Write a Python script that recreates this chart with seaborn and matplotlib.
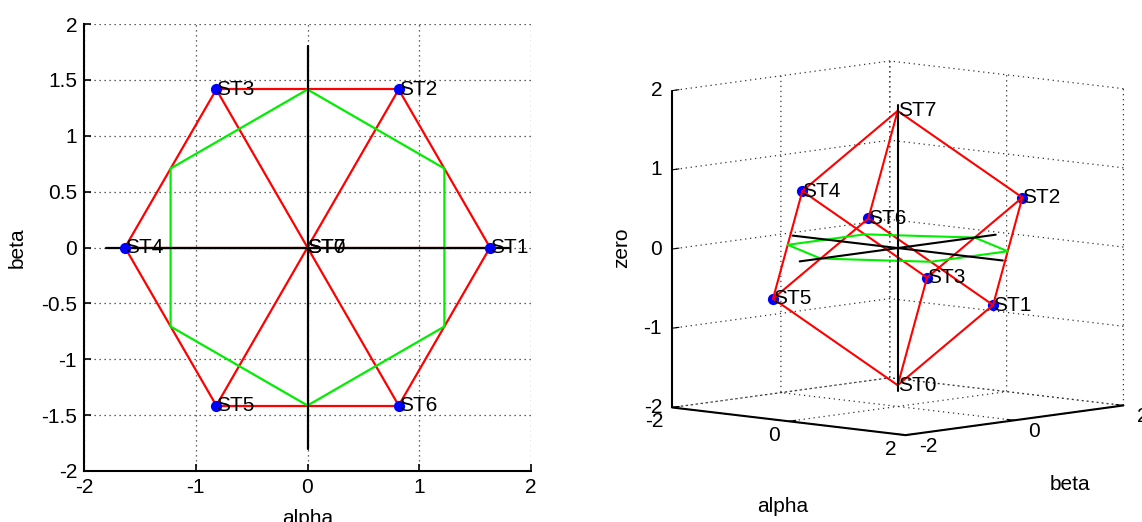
import numpy as np
import pandas as pd
import matplotlib
matplotlib.use("Agg")
import matplotlib.pyplot as plt
from matplotlib.transforms import ScaledTranslation
from matplotlib.ticker import NullFormatter
import seaborn as sns

sns.set_style("white")
plt.rcParams['font.family'] = ['Liberation Sans', 'DejaVu Sans']
plt.rcParams['axes.unicode_minus'] = False
plt.rcParams['grid.linestyle'] = (0, (1, 3))
plt.rcParams['grid.color'] = '0.2'
plt.rcParams['grid.linewidth'] = 0.9
plt.rcParams['text.color'] = 'k'
plt.rcParams['axes.labelcolor'] = 'k'
plt.rcParams['xtick.color'] = 'k'
plt.rcParams['ytick.color'] = 'k'

# ---------------- data ----------------
states = ['ST0', 'ST1', 'ST2', 'ST3', 'ST4', 'ST5', 'ST6', 'ST7']
alpha = [0.0, 1.633, 0.816, -0.816, -1.633, -0.816, 0.816, 0.0]
beta = [0.0, 0.0, 1.414, 1.414, 0.0, -1.414, -1.414, 0.0]
zero = [-1.732, -0.577, 0.577, -0.577, 0.577, -0.577, 0.577, 1.732]

# cube edges (index pairs into the state lists)
edges = [(0, 1), (0, 3), (0, 5), (7, 2), (7, 4), (7, 6),
         (1, 2), (2, 3), (3, 4), (4, 5), (5, 6), (6, 1)]

# green hexagon in the zero = 0 plane
green_alpha = [1.225, 0.0, -1.225, -1.225, 0.0, 1.225, 1.225]
green_beta = [0.707, 1.414, 0.707, -0.707, -1.414, -0.707, 0.707]
green_zero = [0.0, 0.0, 0.0, 0.0, 0.0, 0.0, 0.0]

axis_len = 1.8

xticks2d = [-2, -1, 0, 1, 2]
xticklabels2d = ['-2', '-1', '0', '1', '2']
yticks2d = [-2, -1.5, -1, -0.5, 0, 0.5, 1, 1.5, 2]
yticklabels2d = ['-2', '-1.5', '-1', '-0.5', '0', '0.5', '1', '1.5', '2']
ticks3d_ab = [-2, 0, 2]
ticklabels3d_ab = ['-2', '0', '2']
ticks3d_z = [-2, -1, 0, 1, 2]
ticklabels3d_z = ['-2', '-1', '0', '1', '2']

rows = []
for k, (i, j) in enumerate(edges):
    for n in (i, j):
        rows.append(dict(edge=k, alpha=alpha[n], beta=beta[n], zero=zero[n]))
edge_df = pd.DataFrame(rows)
green_df = pd.DataFrame(dict(alpha=green_alpha, beta=green_beta, zero=green_zero))

RED = '#ff0000'
GREEN = '#00ee00'
BLUE = '#0000ff'
FS = 15

fig = plt.figure(figsize=(11.42, 5.22), dpi=100)

# ---------------- left: 2-D ----------------
ax = fig.add_axes([84 / 1142, 51 / 522, 447 / 1142, 447 / 522])
sns.lineplot(data=edge_df, x='alpha', y='beta', units='edge', estimator=None,
             sort=False, color=RED, lw=1.6, ax=ax, legend=False)
sns.lineplot(data=green_df, x='alpha', y='beta', estimator=None, sort=False,
             color=GREEN, lw=1.6, ax=ax, legend=False)
ax.plot([-axis_len, axis_len], [0, 0], color='k', lw=1.6)
ax.plot([0, 0], [-axis_len, axis_len], color='k', lw=1.6)
sns.scatterplot(x=alpha[1:7], y=beta[1:7], color=BLUE, s=65, linewidth=0,
                ax=ax, legend=False, zorder=5)
for s, a, b in zip(states, alpha, beta):
    ax.text(a, b, s, fontsize=FS, ha='left', va='center', zorder=6)

ax.set_xlim(-2, 2)
ax.set_ylim(-2, 2)
ax.set_xticks(xticks2d)
ax.set_xticklabels(xticklabels2d)
ax.set_yticks(yticks2d)
ax.set_yticklabels(yticklabels2d)
ax.grid(True)
for sp in ('top', 'right'):
    ax.spines[sp].set_visible(False)
for sp in ('left', 'bottom'):
    ax.spines[sp].set_color('k')
    ax.spines[sp].set_linewidth(1.5)
ax.tick_params(direction='in', length=5, width=1.2, labelsize=FS, pad=5,
               left=True, bottom=True, colors='k')
ax.set_xlabel('alpha', fontsize=FS, labelpad=9)
ax.set_ylabel('beta', fontsize=FS, labelpad=10)

# ---------------- right: 3-D ----------------
ax3 = fig.add_axes([0.555, -0.0085, 0.45, 1.04], projection='3d')
ax3.set_proj_type('ortho')
ax3.view_init(elev=7.3, azim=-47)
ax3.set_box_aspect((1, 1, 1), zoom=1.045)

for k, g in edge_df.groupby('edge'):
    ax3.plot(g['alpha'], g['beta'], g['zero'], color=RED, lw=1.5)
ax3.plot(green_df['alpha'], green_df['beta'], green_df['zero'], color=GREEN, lw=1.5)
ax3.plot([-axis_len, axis_len], [0, 0], [0, 0], color='k', lw=1.5)
ax3.plot([0, 0], [-axis_len, axis_len], [0, 0], color='k', lw=1.5)
ax3.plot([0, 0], [0, 0], [-axis_len, axis_len], color='k', lw=1.5)
ax3.scatter(alpha[1:7], beta[1:7], zero[1:7], color=BLUE, s=65, linewidths=0,
            depthshade=False)
for s, a, b, z in zip(states, alpha, beta, zero):
    ax3.text(a, b, z, s, fontsize=FS, ha='left', va='center', color='k')

ax3.set_xlim(-2, 2)
ax3.set_ylim(-2, 2)
ax3.set_zlim(-2, 2)
ax3.set_xticks(ticks3d_ab)
ax3.set_yticks(ticks3d_ab)
ax3.set_zticks(ticks3d_z)
ax3.zaxis.set_ticks_position('lower')
for axis in (ax3.xaxis, ax3.yaxis, ax3.zaxis):
    axis.set_major_formatter(NullFormatter())
    axis.set_tick_params(labelbottom=False, labeltop=False)
    axis.set_pane_color((1, 1, 1, 0))
    axis.pane.set_edgecolor((1, 1, 1, 0))
    axis.line.set_color('k')
    axis.line.set_linewidth(1.5)
    axis._axinfo['grid'].update(color='0.2', linewidth=0.9, linestyle=(0, (1, 3)))
    axis._axinfo['tick']['inward_factor'] = 0.0
    axis._axinfo['tick']['outward_factor'] = 0.4
ax3.grid(True)
ax3.patch.set_alpha(0)


def px_offset(dx, dy):
    return ax3.transData + ScaledTranslation(dx / 100, -dy / 100, fig.dpi_scale_trans)


# tick labels placed MATLAB-style next to the box edges
lo, hi = ax3.get_xlim()[0], ax3.get_xlim()[1]
for t, s in zip(ticks3d_ab, ticklabels3d_ab):
    ax3.text(t, lo, lo, s, fontsize=FS, ha='right', va='center',
             transform=px_offset(-9, 14))
    ax3.text(hi, t, lo, s, fontsize=FS, ha='left', va='center',
             transform=px_offset(14, 11))
for t, s in zip(ticks3d_z, ticklabels3d_z):
    ax3.text(lo, lo, t, s, fontsize=FS, ha='right', va='center',
             transform=px_offset(-10, 0))

# 3-D axis titles, horizontal as in the reference
fig.text(783 / 1142, 1 - 507 / 522, 'alpha', fontsize=FS, ha='center', va='center')
fig.text(1070 / 1142, 1 - 485 / 522, 'beta', fontsize=FS, ha='center', va='center')
fig.text(622 / 1142, 1 - 248 / 522, 'zero', fontsize=FS, ha='center', va='center',
         rotation=90)

fig.savefig('out.png', dpi=100)
